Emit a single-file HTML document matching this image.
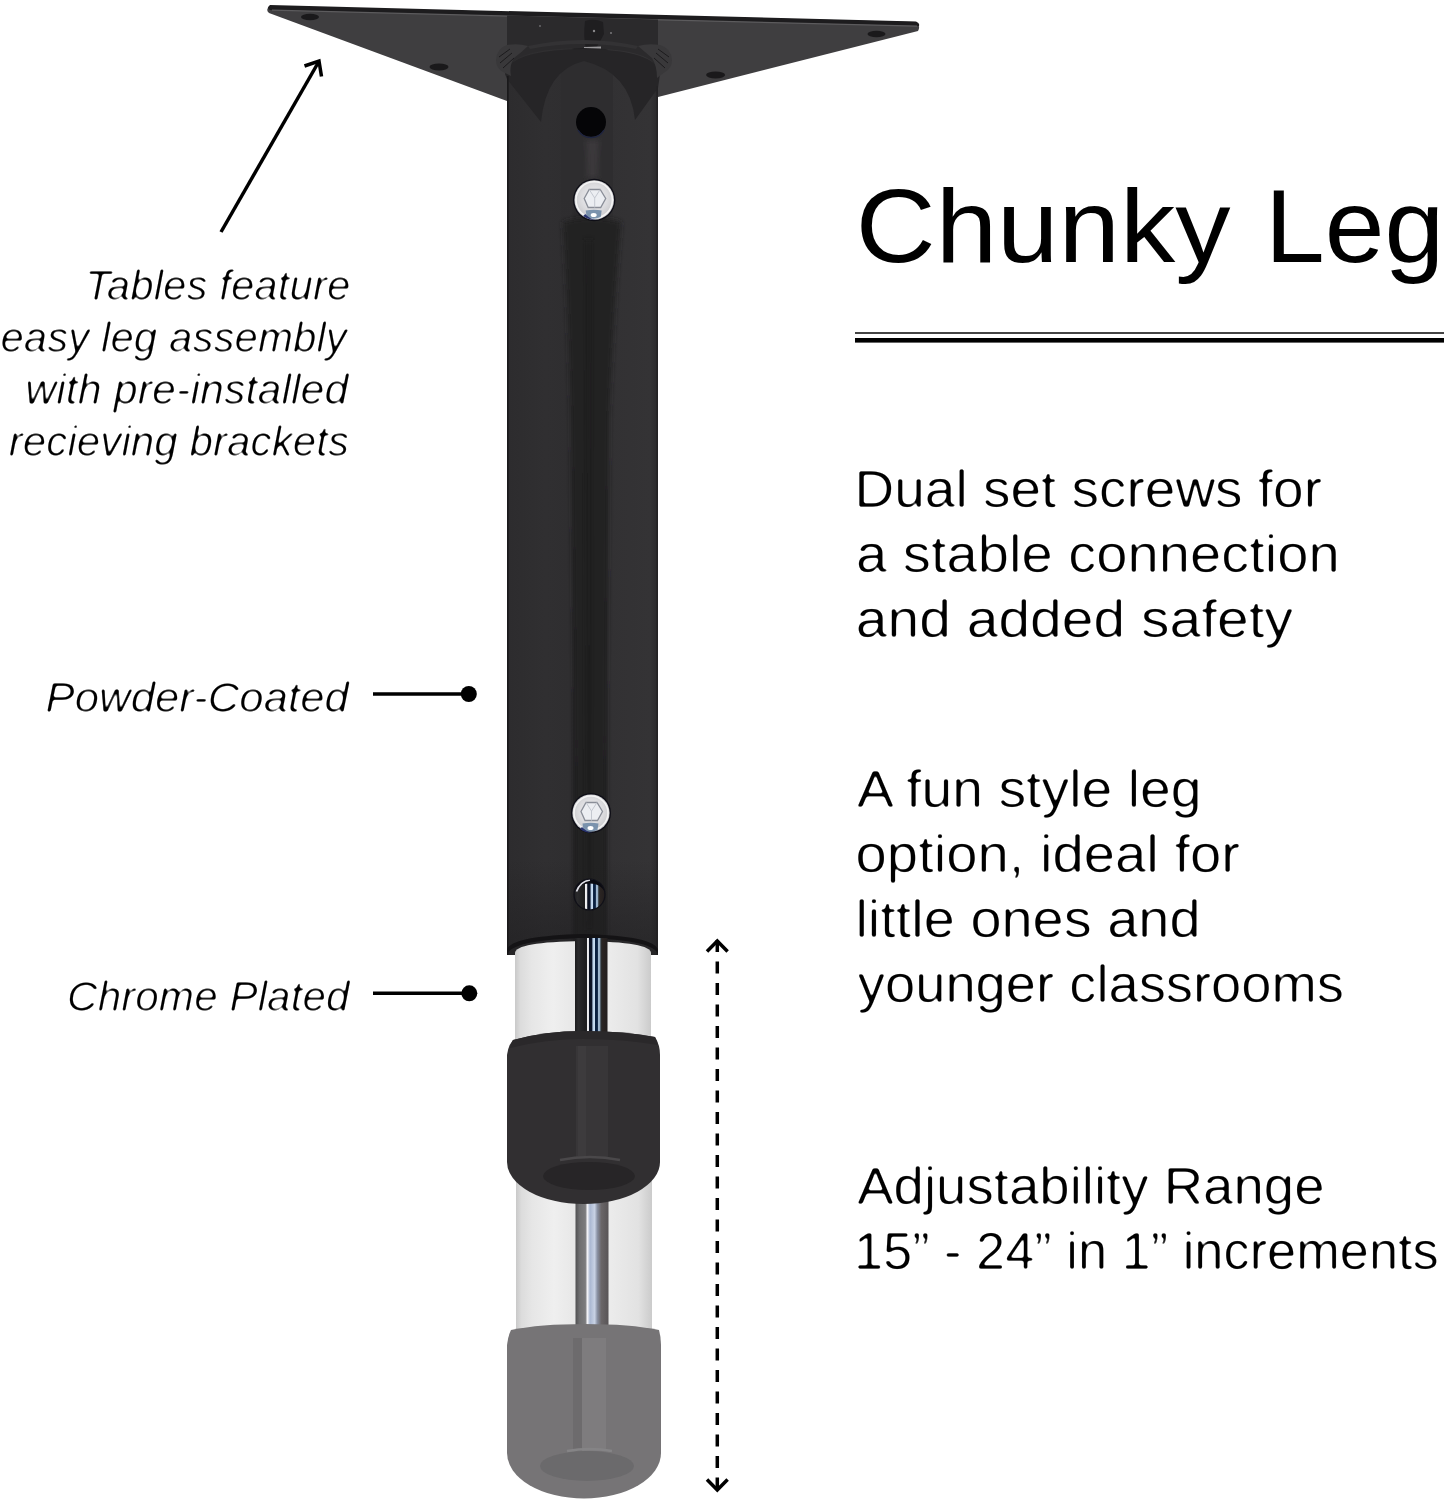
<!DOCTYPE html>
<html><head><meta charset="utf-8"><title>Chunky Leg</title>
<style>
html,body{margin:0;padding:0;background:#fff;}
body{width:1446px;height:1500px;overflow:hidden;position:relative;font-family:"Liberation Sans",sans-serif;}
svg{position:absolute;left:0;top:0;display:block;}
.it{font-family:"Liberation Sans",sans-serif;font-style:italic;font-size:42px;fill:#000;}
.bd{font-family:"Liberation Sans",sans-serif;font-size:51px;fill:#000;}
.hd{font-family:"Liberation Sans",sans-serif;font-size:104px;fill:#000;}
</style></head>
<body>
<svg width="1446" height="1500" viewBox="0 0 1446 1500">
<defs>
  <filter id="soft2" x="-20%" y="-5%" width="140%" height="110%"><feGaussianBlur stdDeviation="2.5"/></filter>
  <filter id="thinI" x="-5%" y="-20%" width="110%" height="140%"><feGaussianBlur in="SourceAlpha" stdDeviation="0.8"/><feComponentTransfer><feFuncA type="linear" slope="3" intercept="-1.4"/></feComponentTransfer></filter>
  <filter id="thinB" x="-5%" y="-20%" width="110%" height="140%"><feGaussianBlur in="SourceAlpha" stdDeviation="0.8"/><feComponentTransfer><feFuncA type="linear" slope="3" intercept="-1.35"/></feComponentTransfer></filter>
  <linearGradient id="tubeG" gradientUnits="userSpaceOnUse" x1="507" x2="658" y1="0" y2="0">
    <stop offset="0.0000" stop-color="#1d1c1e"/>
    <stop offset="0.0132" stop-color="#2d2c2e"/>
    <stop offset="0.2517" stop-color="#302f31"/>
    <stop offset="0.4238" stop-color="#2f2e30"/>
    <stop offset="0.4470" stop-color="#222123"/>
    <stop offset="0.5298" stop-color="#1f1e20"/>
    <stop offset="0.6159" stop-color="#242325"/>
    <stop offset="0.6556" stop-color="#252426"/>
    <stop offset="0.6722" stop-color="#323133"/>
    <stop offset="0.9470" stop-color="#343335"/>
    <stop offset="0.9868" stop-color="#2c2b2d"/>
    <stop offset="1.0000" stop-color="#1f1e20"/>
  </linearGradient>
  <linearGradient id="tubeTopG" x1="0" x2="0" y1="0" y2="1">
    <stop offset="0" stop-color="#2e2d2f" stop-opacity="1"/>
    <stop offset="0.75" stop-color="#2e2d2f" stop-opacity="1"/>
    <stop offset="1" stop-color="#2e2d2f" stop-opacity="0"/>
  </linearGradient>
  <linearGradient id="tubeBotG" x1="0" x2="0" y1="0" y2="1">
    <stop offset="0" stop-color="#1e1d1f" stop-opacity="0"/>
    <stop offset="1" stop-color="#1e1d1f" stop-opacity="0.55"/>
  </linearGradient>
  <linearGradient id="chromeG" x1="0" x2="1" y1="0" y2="0">
    <stop offset="0" stop-color="#c9c9c9"/>
    <stop offset="0.04" stop-color="#dcdcdc"/>
    <stop offset="0.12" stop-color="#e6e6e6"/>
    <stop offset="0.28" stop-color="#efefef"/>
    <stop offset="0.42" stop-color="#e8e8e8"/>
    <stop offset="0.70" stop-color="#ebebeb"/>
    <stop offset="0.90" stop-color="#e2e2e2"/>
    <stop offset="1" stop-color="#cbcbcb"/>
  </linearGradient>
  <linearGradient id="rodG" x1="0" x2="1" y1="0" y2="0">
    <stop offset="0" stop-color="#1c1c1e"/>
    <stop offset="0.1" stop-color="#2a2a2c"/>
    <stop offset="0.3" stop-color="#1e1e20"/>
    <stop offset="0.355" stop-color="#1e1e20"/>
    <stop offset="0.37" stop-color="#f0f0f2"/>
    <stop offset="0.42" stop-color="#e8e8ec"/>
    <stop offset="0.44" stop-color="#0a1020"/>
    <stop offset="0.52" stop-color="#0c1428"/>
    <stop offset="0.55" stop-color="#b8d0e8"/>
    <stop offset="0.6" stop-color="#c8dcf0"/>
    <stop offset="0.63" stop-color="#0a2040"/>
    <stop offset="0.69" stop-color="#0a2040"/>
    <stop offset="0.72" stop-color="#a0b8d0"/>
    <stop offset="0.76" stop-color="#98b0c8"/>
    <stop offset="0.8" stop-color="#2a2e30"/>
    <stop offset="0.85" stop-color="#2a2422"/>
    <stop offset="1" stop-color="#221e1e"/>
  </linearGradient>
  <linearGradient id="rod2G" x1="0" x2="1" y1="0" y2="0">
    <stop offset="0" stop-color="#505052"/>
    <stop offset="0.12" stop-color="#6e6e70"/>
    <stop offset="0.30" stop-color="#7c7c7e"/>
    <stop offset="0.36" stop-color="#f4f4f8"/>
    <stop offset="0.44" stop-color="#aab8d2"/>
    <stop offset="0.58" stop-color="#c8d2e4"/>
    <stop offset="0.66" stop-color="#8a92a4"/>
    <stop offset="0.78" stop-color="#6a6668"/>
    <stop offset="1" stop-color="#585456"/>
  </linearGradient>
  <radialGradient id="screwG" cx="0.5" cy="0.45" r="0.55">
    <stop offset="0" stop-color="#f2f2f4"/>
    <stop offset="0.6" stop-color="#dcdcdf"/>
    <stop offset="0.85" stop-color="#cfcfd2"/>
    <stop offset="1" stop-color="#bfc0c6"/>
  </radialGradient>
</defs>

<!-- ===== LEG ===== -->
<g id="leg">
  <!-- plate face -->
  <path d="M270,6 L916,22 Q921,25 918,31 L658,97 L507,101 L269,13 Q265,9 270,6 Z" fill="#3f3e40"/>
  <!-- plate top edge (thickness) -->
  <path d="M270,5 L916,21.5 Q920,23 919,26 L270,10 Q266,8 270,5 Z" fill="#1d1c1e"/>
  <path d="M272,10.2 L917,26.2" stroke="#5c5b5d" stroke-width="1.2"/>
  <!-- mounting holes -->
  <ellipse cx="310" cy="17" rx="9" ry="3.2" fill="#1a191b"/>
  <ellipse cx="439" cy="67" rx="9.5" ry="3.4" fill="#1a191b"/>
  <ellipse cx="715.6" cy="75" rx="9.5" ry="3.4" fill="#1a191b"/>
  <ellipse cx="876.5" cy="34" rx="9" ry="3.2" fill="#1a191b"/>
  <!-- weld block -->
  <path d="M507,15.5 L658,19.5 L658,98 L507,101 Z" fill="#2b2a2c"/>
  <!-- center weld blob -->
  <path d="M585,21 Q594,18 603,22 L604,34 Q600,42 596,48 L586,48 Q583,38 585,21 Z" fill="#1f1e20"/>
  <path d="M584,47 L601,46.5 L601,49 L584,49.5 Z" fill="#9a999b"/>
  <circle cx="594" cy="31" r="1.2" fill="#8a898b"/>
  <circle cx="611" cy="33" r="1" fill="#7a797b"/>
  <circle cx="540" cy="26" r="1" fill="#6a696b"/>
  <!-- tube body -->
  <path d="M507,72 Q510,49 583,48 Q656,49 658,72 L658,955 L507,955 Z" fill="url(#tubeG)"/>
  <!-- top region without dark stripe -->
  <rect x="561" y="60" width="52" height="185" fill="url(#tubeTopG)"/>
  <!-- tapered dark reflection below screw -->
  <path d="M563,222 Q592,214 621,222 Q614,300 609,420 L606.5,700 L606,950 L575,950 L574.5,700 L571,420 Q568,300 563,222 Z" fill="#222123" filter="url(#soft2)"/>
  <path d="M584,240 L593,240 L592.5,930 L586.5,930 Z" fill="#1c1b1d" filter="url(#soft2)" opacity="0.6"/>
  <path d="M586,140 L599,140 L598,178 L587,178 Z" fill="#3a393b" filter="url(#soft2)"/>
  <!-- dark collar with arch -->
  <path d="M505,74 Q509,50 583,49 Q657,50 660,74 L658,88 L635,120 Q630,72 584,61 Q546,70 541,122 L507,79 Z" fill="#262527"/>
  <!-- weld bead lumps -->
  <path d="M496,60 Q497,48 507,45 Q518,43 528,46 Q522,52 514,58 Q509,66 511,76 L503,72 Q496,68 496,60 Z" fill="#39383a"/>
  <path d="M499,57 L510,49 M500,63 L512,53 M503,68 L514,58" stroke="#1c1b1d" stroke-width="1"/>
  <path d="M672,60 Q671,48 660,45 Q648,43 638,46 Q645,52 652,58 Q657,66 657,78 L665,72 Q672,68 672,60 Z" fill="#39383a"/>
  <path d="M669,57 L658,49 M668,63 L656,53 M665,68 L654,58" stroke="#1c1b1d" stroke-width="1"/>
  <path d="M528,46 Q555,40 583,40 Q612,40 638,46 L636,49 Q610,44 583,44 Q556,44 530,49 Z" fill="#333234"/>
  <!-- tube edges -->
  <rect x="507" y="76" width="1.6" height="879" fill="#1a191b"/>
  <rect x="656.6" y="86" width="1.4" height="869" fill="#232224"/>
  <!-- darker lower tube -->
  <rect x="508" y="860" width="149" height="95" fill="url(#tubeBotG)"/>
  <!-- chrome 1 -->
  <path d="M515,953 Q515,942 583,941 Q651,942 651,953 L651,1045 L515,1045 Z" fill="url(#chromeG)"/>
  <!-- tube bottom rim -->
  <path d="M507,955 Q510,940 583,938 Q656,940 658,955 L658,950 Q655,936 583,934 Q510,936 507,950 Z" fill="#141315"/>
  <rect x="575" y="938" width="32.5" height="105" fill="url(#rodG)"/>
  <!-- chrome 2 -->
  <rect x="516" y="1160" width="136" height="172" fill="url(#chromeG)"/>
  <rect x="575.5" y="1160" width="33" height="170" fill="url(#rod2G)"/>
  <!-- black cap -->
  <path d="M513,1040 Q545,1031 583,1031 Q625,1031 655,1037 Q660,1045 660,1055 L660,1162 A76.5,42 0 0 1 507,1162 L507,1055 Q508,1046 513,1040 Z" fill="#312f31"/>
  <path d="M513,1040 Q545,1031 583,1031 Q625,1031 655,1037 Q657,1041 658,1045 Q625,1039 583,1039 Q545,1039 510,1048 Q511,1043 513,1040 Z" fill="#2a282a"/>
  <path d="M576,1046 L608,1046 L608,1158 L576,1158 Z" fill="#383638"/>
  <path d="M578,1046 L586,1046 L586,1156 L578,1156 Z" fill="#3d3b3d"/>
  <ellipse cx="589" cy="1176" rx="46" ry="14" fill="#272527"/>
  <path d="M560,1160 Q590,1154 620,1160" stroke="#4a484a" stroke-width="2.5" fill="none"/>
  <!-- gray cap -->
  <path d="M511,1330 Q540,1324 585,1324 Q630,1324 659,1330 Q661,1337 661,1345 L661,1453 A77,45.5 0 0 1 507,1453 L507,1345 Q508,1336 511,1330 Z" fill="#767476"/>
  <path d="M573,1338 L582,1338 L582,1451 L573,1451 Z" fill="#6d6b6d"/>
  <path d="M582,1338 L606,1338 L606,1451 L582,1451 Z" fill="#7e7c7e"/>
  <ellipse cx="587" cy="1466" rx="47" ry="15" fill="#6b6a6c"/>
  <path d="M567,1451 Q590,1447 612,1451" stroke="#858486" stroke-width="2.5" fill="none"/>
  <!-- hole 1 -->
  <circle cx="591" cy="122" r="15" fill="#050507"/>
  <path d="M578,130 A15,15 0 0 0 604,130" stroke="#1e2440" stroke-width="1.5" fill="none"/>
  <!-- screw 1 -->
  <g transform="translate(594.2,200)">
    <circle r="21.2" fill="#0e0e16"/>
    <circle r="19.8" fill="url(#screwG)"/>
    <circle r="18.2" fill="none" stroke="#f4f4f4" stroke-width="1.6"/>
    <path d="M-8.5,10.5 Q0,9 7.5,10.5 L6.5,17 Q0,20 -7.5,17.5 Z" fill="#6a86a4" opacity="0.85"/>
    <path d="M-9,14 Q-4,19.5 2,20 Q-6,20 -11,16 Z" fill="#2a3470"/>
    <polygon points="-5,-10.5 6,-10.5 11.5,-1.5 6.5,7.5 -6,7.5 -10,-1.5" fill="#eceef2" stroke="#8a8e98" stroke-width="1.3"/>
    <path d="M-5,-10.5 L0.5,-2 L6,-10.5 M0.5,-2 L0.5,7.5" stroke="#c4c8d0" stroke-width="1" fill="none"/>
    <ellipse cx="-0.5" cy="15" rx="3" ry="2" fill="#ffffff"/>
  </g>
  <!-- screw 2 -->
  <g transform="translate(591,813)">
    <circle r="20.0" fill="#0e0e16"/>
    <circle r="18.6" fill="url(#screwG)"/>
    <circle r="17.0" fill="none" stroke="#f4f4f4" stroke-width="1.6"/>
    <path d="M-8.5,10.5 Q0,9 7.5,10.5 L6.5,17 Q0,20 -7.5,17.5 Z" fill="#6a86a4" opacity="0.85"/>
    <path d="M-9,14 Q-4,19.5 2,20 Q-6,20 -11,16 Z" fill="#2a3470"/>
    <polygon points="-5,-10.5 6,-10.5 11.5,-1.5 6.5,7.5 -6,7.5 -10,-1.5" fill="#eceef2" stroke="#8a8e98" stroke-width="1.3"/>
    <path d="M-5,-10.5 L0.5,-2 L6,-10.5 M0.5,-2 L0.5,7.5" stroke="#c4c8d0" stroke-width="1" fill="none"/>
    <ellipse cx="-0.5" cy="15" rx="3" ry="2" fill="#ffffff"/>
  </g>
  <!-- hole 2 with rod visible -->
  <circle cx="589.5" cy="894.5" r="15.5" fill="url(#rodG)"/>
  <path d="M574,894.5 A15.5,15.5 0 0 1 605,894.5 A15.5,11 0 0 0 574,894.5 Z" fill="#0a0a10"/>
  <path d="M576.5,891.5 Q580,881.5 590,880" stroke="#e0e0e8" stroke-width="1.6" fill="none"/>
  <circle cx="589.5" cy="894.5" r="15.5" fill="none" stroke="#101018" stroke-width="1.2"/>
</g>

<!-- ===== ANNOTATIONS ===== -->
<g stroke="#000" stroke-width="3.5" fill="none">
  <line x1="221" y1="232" x2="318" y2="63"/>
  <polyline points="304.5,66 319,61 321.5,76.5"/>
  <line x1="373" y1="694" x2="466" y2="694"/>
  <line x1="373" y1="993.3" x2="466" y2="993.3"/>
  <line x1="717.3" y1="940" x2="717.3" y2="1490" stroke-dasharray="12 9.5"/>
  <polyline points="707,951.5 717.3,941 727.6,951.5"/>
  <polyline points="707,1479.5 717.3,1490 727.6,1479.5"/>
</g>
<circle cx="468.8" cy="694" r="8" fill="#000"/>
<circle cx="469.3" cy="993.3" r="8" fill="#000"/>

<!-- heading rules -->
<rect x="855" y="332" width="589" height="2" fill="#444"/>
<rect x="855" y="338" width="589" height="4.6" fill="#000"/>

<!-- ===== TEXT ===== -->
<!-- TEXT_START -->
<text class="hd" x="855.8" y="261.7" textLength="374.8" lengthAdjust="spacingAndGlyphs">Chunky</text>
<text class="hd" x="1265.1" y="261.7" textLength="179.1" lengthAdjust="spacingAndGlyphs">Leg</text>
<g filter="url(#thinB)">
<text class="bd" x="854.6" y="507.0" textLength="467.4" lengthAdjust="spacingAndGlyphs">Dual set screws for</text>
<text class="bd" x="856.0" y="572.0" textLength="483.8" lengthAdjust="spacingAndGlyphs">a stable connection</text>
<text class="bd" x="855.8" y="637.2" textLength="437.3" lengthAdjust="spacingAndGlyphs">and added safety</text>
<text class="bd" x="856.9" y="806.8" textLength="344.6" lengthAdjust="spacingAndGlyphs">A fun style leg</text>
<text class="bd" x="855.6" y="871.8" textLength="384.5" lengthAdjust="spacingAndGlyphs">option, ideal for</text>
<text class="bd" x="855.4" y="936.8" textLength="345.1" lengthAdjust="spacingAndGlyphs">little ones and</text>
<text class="bd" x="857.8" y="1001.8" textLength="486.2" lengthAdjust="spacingAndGlyphs">younger classrooms</text>
<text class="bd" x="857.2" y="1204.0" textLength="467.4" lengthAdjust="spacingAndGlyphs">Adjustability Range</text>
<text class="bd" x="853.9" y="1269.2" textLength="584.9" lengthAdjust="spacingAndGlyphs">15” - 24” in 1” increments</text>
</g>
<g filter="url(#thinI)">
<text class="it" x="84.9" y="300.4" textLength="265.5" lengthAdjust="spacingAndGlyphs">Tables feature</text>
<text class="it" x="0.4" y="352.4" textLength="346.5" lengthAdjust="spacingAndGlyphs">easy leg assembly</text>
<text class="it" x="25.2" y="404.2" textLength="323.3" lengthAdjust="spacingAndGlyphs">with pre-installed</text>
<text class="it" x="8.8" y="456.1" textLength="340.4" lengthAdjust="spacingAndGlyphs">recieving brackets</text>
<text class="it" x="45.5" y="711.9" textLength="303.4" lengthAdjust="spacingAndGlyphs">Powder-Coated</text>
<text class="it" x="67.1" y="1010.5" textLength="282.4" lengthAdjust="spacingAndGlyphs">Chrome Plated</text>
</g>
<!-- TEXT_END -->
</svg>
</body></html>
